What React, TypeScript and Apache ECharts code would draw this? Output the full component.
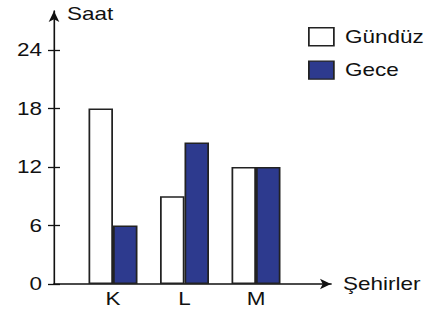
import React, { useEffect, useRef } from "react";
import * as echarts from "echarts";

const categories = ["K", "L", "M"];
const gunduz = [18, 9, 12];
const gece = [6, 14.5, 12];
const yTicks = [0, 6, 12, 18, 24];
const seriesNames = ["Gündüz", "Gece"];

const FONT = "Liberation Sans";
const TXT = "#111111";
const DARK = "#2d3a8e";

// The reference is horizontally stretched; the chart is drawn narrower and stretched with CSS.
const PAGE_W = 432;
const CHART_W = 346;
const S = PAGE_W / CHART_W;
const X = (px: number) => px / S;

export default function App() {
  const ref = useRef<HTMLDivElement>(null);
  useEffect(() => {
    if (!ref.current) return;
    const chart = echarts.init(ref.current, undefined, { renderer: "svg" });
    const yMax = 28;
    const fs = 18;
    chart.setOption({
      animation: false,
      backgroundColor: "#ffffff",
      textStyle: { fontFamily: FONT },
      legend: {
        orient: "vertical",
        left: X(308),
        top: 27,
        padding: 0,
        itemWidth: X(25),
        itemHeight: 18,
        itemGap: 14,
        textStyle: { fontFamily: FONT, fontSize: fs, color: TXT, padding: [0, 0, 0, X(5)] },
        data: [
          { name: seriesNames[0], icon: "rect", itemStyle: { color: "#ffffff", borderColor: "#222", borderWidth: 1.4 } },
          { name: seriesNames[1], icon: "rect", itemStyle: { color: DARK, borderColor: "#222", borderWidth: 1.4 } },
        ],
      },
      grid: [
        { left: X(77.25), right: CHART_W - X(291.75), top: 11, bottom: 32 },
        { left: X(54), right: CHART_W - X(331), top: 11, bottom: 32 },
      ],
      xAxis: [
        {
          type: "category",
          gridIndex: 0,
          data: categories,
          axisLine: { show: false },
          axisTick: { show: false },
          axisLabel: { fontFamily: FONT, fontSize: fs, color: TXT, margin: 6 },
        },
        {
          type: "value",
          gridIndex: 1,
          min: 0,
          max: 1,
          name: "Şehirler",
          nameLocation: "end",
          nameGap: X(12),
          nameTextStyle: { fontFamily: FONT, fontSize: fs, color: TXT },
          axisLine: { show: true, lineStyle: { color: "#111", width: 1.5 }, symbol: ["none", "arrow"], symbolSize: [8, X(11)] },
          axisTick: { show: false },
          axisLabel: { show: false },
          splitLine: { show: false },
        },
      ],
      yAxis: [
        {
          type: "value",
          gridIndex: 0,
          min: 0,
          max: yMax,
          show: false,
          splitLine: { show: false },
        },
        {
          type: "value",
          gridIndex: 1,
          position: "left",
          min: 0,
          max: yMax,
          name: "Saat",
          nameLocation: "end",
          nameGap: -3,
          nameTextStyle: { fontFamily: FONT, fontSize: fs, color: TXT, align: "left", verticalAlign: "middle", padding: [0, 0, 0, X(13)] },
          axisLine: { show: true, lineStyle: { color: "#111", width: 1.3 }, symbol: ["none", "arrow"], symbolSize: [X(8), 11] },
          axisTick: { show: true, length: X(6), lineStyle: { color: "#111", width: 1.3 }, customValues: yTicks },
          axisLabel: { fontFamily: FONT, fontSize: fs, color: TXT, margin: X(12), customValues: yTicks },
          splitLine: { show: false },
        },
        {
          type: "value",
          gridIndex: 1,
          position: "left",
          offset: 0,
          min: 0,
          max: yMax,
          axisLine: { show: false },
          axisTick: { show: true, inside: true, length: X(6), lineStyle: { color: "#111", width: 1.3 }, customValues: yTicks },
          axisLabel: { show: false },
          splitLine: { show: false },
        },
      ],
      series: [
        {
          name: seriesNames[0],
          type: "bar",
          xAxisIndex: 0,
          yAxisIndex: 0,
          data: gunduz,
          barWidth: X(24.5),
          barGap: "0%",
          itemStyle: { color: "#ffffff", borderColor: "#222", borderWidth: 1.4 },
        },
        {
          name: seriesNames[1],
          type: "bar",
          xAxisIndex: 0,
          yAxisIndex: 0,
          data: gece,
          barWidth: X(24.5),
          barGap: "0%",
          itemStyle: { color: DARK, borderColor: "#222", borderWidth: 1.4 },
        },
      ],
    });
    return () => chart.dispose();
  }, []);
  return (
    <div style={{ position: "absolute", left: 0, top: 0, width: PAGE_W, height: 316, overflow: "hidden", background: "#fff" }}>
      <div
        ref={ref}
        style={{ width: CHART_W, height: 316, transform: `scaleX(${S})`, transformOrigin: "0 0" }}
      />
    </div>
  );
}
